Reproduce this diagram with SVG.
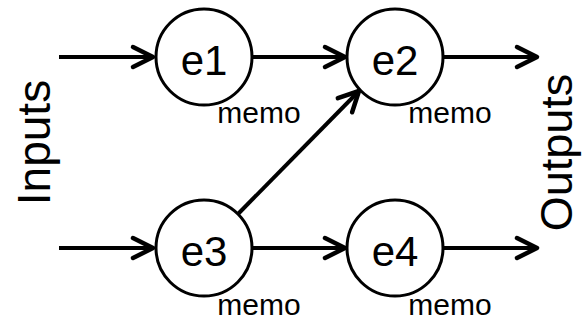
<svg xmlns="http://www.w3.org/2000/svg" width="583" height="321" viewBox="0 0 583 321">
<style>
.node circle{fill:#fff;stroke:#000;stroke-width:3}
.lbl{font-family:"Liberation Sans",Arial,sans-serif;font-size:42px;fill:#000;text-anchor:middle}
.memo{font-family:"Liberation Sans",Arial,sans-serif;font-size:30px;fill:#000;text-anchor:middle}
.side{font-family:"Liberation Sans",Arial,sans-serif;font-size:46px;fill:#000;text-anchor:middle}
.edge{stroke:#000;stroke-width:4;fill:none;marker-end:url(#arr)}
</style>
<defs>
<marker id="arr" markerUnits="userSpaceOnUse" markerWidth="30" markerHeight="30" viewBox="-25 -15 30 30" refX="0" refY="0" orient="auto" overflow="visible">
<path d="M-20,-10 L0,0 L-20,10" fill="none" stroke="#000" stroke-width="4.5" stroke-linecap="round" stroke-linejoin="round"/>
</marker>
</defs>
<rect width="583" height="321" fill="#fff"/>
<g id="connectors">
<line class="edge" x1="59" y1="57" x2="153" y2="57"/>
<line class="edge" x1="252" y1="57" x2="345" y2="57"/>
<line class="edge" x1="444" y1="57" x2="537" y2="57"/>
<line class="edge" x1="59" y1="248" x2="153" y2="248"/>
<line class="edge" x1="252" y1="248" x2="345" y2="248"/>
<line class="edge" x1="444" y1="248" x2="537" y2="248"/>
<line class="edge" x1="238" y1="214" x2="359" y2="91"/>
</g>
<g id="e1" class="node">
<circle cx="204" cy="57" r="48"/>
<text class="lbl" x="204" y="75">e1</text>
<text class="memo" x="259" y="123">memo</text>
</g>
<g id="e2" class="node">
<circle cx="395" cy="57" r="48"/>
<text class="lbl" x="395" y="75">e2</text>
<text class="memo" x="450" y="123">memo</text>
</g>
<g id="e3" class="node">
<circle cx="204" cy="248" r="48"/>
<text class="lbl" x="204" y="266">e3</text>
<text class="memo" x="259" y="315">memo</text>
</g>
<g id="e4" class="node">
<circle cx="395" cy="248" r="48"/>
<text class="lbl" x="395" y="266">e4</text>
<text class="memo" x="450" y="315">memo</text>
</g>
<g id="inputs">
<text class="side" transform="translate(50,142.5) rotate(-90)">Inputs</text>
</g>
<g id="outputs">
<text class="side" style="font-size:45px" transform="translate(572,152.5) rotate(-90)">Outputs</text>
</g>
</svg>
